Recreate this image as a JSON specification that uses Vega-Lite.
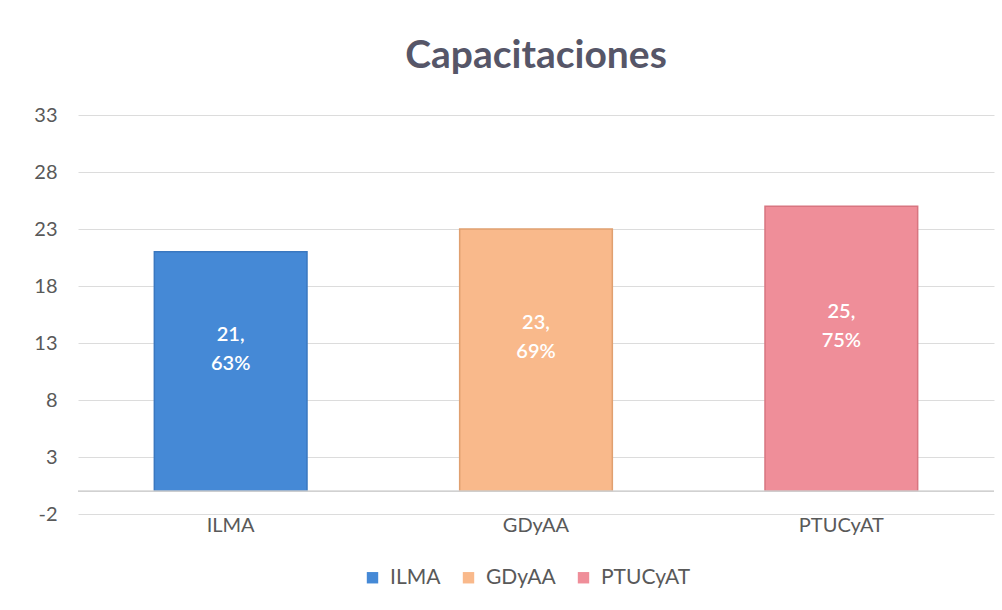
{
  "$schema": "https://vega.github.io/schema/vega-lite/v6.json",
  "autosize": "none",
  "width": 916,
  "height": 399,
  "padding": {"left": 78, "top": 115, "right": 8, "bottom": 96},
  "background": "#ffffff",
  "title": {
    "text": "Capacitaciones",
    "fontSize": 39,
    "font": "Lato",
    "fontWeight": "bold",
    "color": "#565668",
    "offset": 29,
    "anchor": "middle"
  },
  "config": {
    "view": {"stroke": null},
    "font": "Lato"
  },
  "data": {
    "values": [
      {"cat": "ILMA", "value": 21, "label": "21,\n63%"},
      {"cat": "GDyAA", "value": 23, "label": "23,\n69%"},
      {"cat": "PTUCyAT", "value": 25, "label": "25,\n75%"}
    ]
  },
  "encoding": {
    "x": {
      "field": "cat",
      "type": "nominal",
      "sort": ["ILMA", "GDyAA", "PTUCyAT"],
      "scale": {"paddingInner": 0.5, "paddingOuter": 0.25},
      "axis": {
        "title": null,
        "labelAngle": 0,
        "labelFontSize": 20,
        "labelColor": "#595959",
        "labelPadding": 1,
        "ticks": false,
        "domain": false
      }
    }
  },
  "resolve": {"scale": {"y": "independent"}},
  "layer": [
    {
      "mark": {"type": "bar", "strokeWidth": 1.5},
      "encoding": {
        "y": {
          "field": "value",
          "type": "quantitative",
          "scale": {"domain": [-2, 33], "nice": false, "zero": false},
          "axis": {
            "title": null,
            "values": [-2, 3, 8, 13, 18, 23, 28, 33],
            "labelExpr": "'' + datum.value",
            "labelFontSize": 20,
            "labelColor": "#595959",
            "labelPadding": 21,
            "ticks": false,
            "domain": false,
            "gridColor": "#dcdcdc",
            "gridWidth": 1
          }
        },
        "y2": {"datum": 0},
        "color": {
          "field": "cat",
          "type": "nominal",
          "sort": ["ILMA", "GDyAA", "PTUCyAT"],
          "scale": {
            "domain": ["ILMA", "GDyAA", "PTUCyAT"],
            "range": ["#4589d6", "#f9b98b", "#ef8e99"]
          },
          "legend": {
            "title": null,
            "orient": "none",
            "legendX": 284,
            "legendY": 452,
            "direction": "horizontal",
            "symbolType": "square",
            "symbolSize": 130,
            "symbolStrokeWidth": 0,
            "labelFontSize": 21,
            "labelColor": "#595959",
            "labelOffset": 7,
            "columnPadding": 17
          }
        },
        "stroke": {
          "field": "cat",
          "type": "nominal",
          "scale": {
            "domain": ["ILMA", "GDyAA", "PTUCyAT"],
            "range": ["#3a78c0", "#e0a070", "#d87580"]
          },
          "legend": null
        }
      }
    },
    {
      "mark": {"type": "rule", "color": "#d0d0d0", "strokeWidth": 1},
      "encoding": {
        "y": {"datum": 0, "scale": {"domain": [-2, 33], "nice": false, "zero": false}, "axis": null},
        "x": null
      }
    },
    {
      "mark": {
        "type": "text",
        "color": "#ffffff",
        "fontSize": 20,
        "fontWeight": 600,
        "lineBreak": "\n",
        "lineHeight": 29,
        "baseline": "middle",
        "dy": -37
      },
      "encoding": {
        "y": {
          "field": "value",
          "type": "quantitative",
          "scale": {"domain": [-4, 66], "nice": false, "zero": false},
          "axis": null
        },
        "text": {"field": "label"}
      }
    }
  ]
}
